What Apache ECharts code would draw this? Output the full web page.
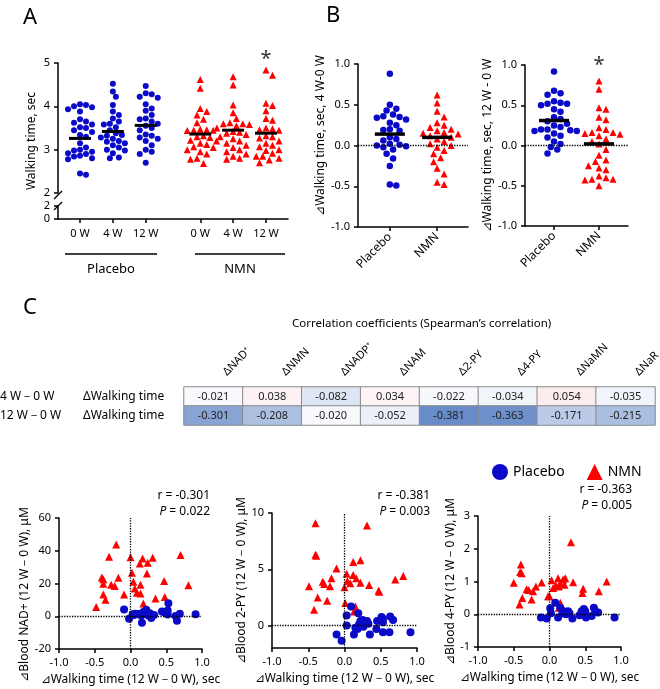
<!DOCTYPE html>
<html>
<head>
<meta charset="utf-8">
<script src="https://cdn.jsdelivr.net/npm/echarts@6/dist/echarts.min.js"></script>
<style>
  html, body { margin: 0; padding: 0; background: #fff; }
  #chart { width: 660px; height: 689px; }
</style>
</head>
<body>
<div id="chart"></div>
<script>
// ---- A: walking time at each visit (sec)
const timeLabels = ['0 W', '4 W', '12 W', '0 W', '4 W', '12 W'];
const aPlacebo0 = [4.05, 4.03, 4.0, 3.98, 3.93, 3.88, 3.7, 3.65, 3.62, 3.58, 3.52, 3.5, 3.45, 3.41, 3.34, 3.3, 3.15, 3.05, 3.0, 2.98, 2.95, 2.92, 2.9, 2.86, 2.84, 2.8, 2.78, 2.45, 2.42];
const aPlacebo4 = [4.52, 4.34, 4.22, 4.03, 3.88, 3.8, 3.72, 3.65, 3.6, 3.58, 3.52, 3.45, 3.38, 3.34, 3.32, 3.28, 3.25, 3.2, 3.18, 3.15, 3.1, 3.05, 3.0, 2.98, 2.92, 2.82, 2.8];
const aPlacebo12 = [4.47, 4.3, 4.28, 4.22, 4.2, 4.05, 3.95, 3.9, 3.8, 3.72, 3.7, 3.65, 3.6, 3.55, 3.5, 3.45, 3.35, 3.32, 3.28, 3.25, 3.2, 3.1, 3.0, 2.95, 2.9, 2.7];
const aNmn0 = [4.62, 4.42, 3.95, 3.88, 3.8, 3.7, 3.62, 3.47, 3.46, 3.45, 3.45, 3.44, 3.32, 3.3, 3.28, 3.22, 3.2, 3.15, 3.12, 3.07, 3.05, 3.0, 2.95, 2.9, 2.8, 2.78, 2.68];
const aNmn4 = [4.68, 4.49, 4.03, 3.85, 3.72, 3.62, 3.6, 3.6, 3.58, 3.55, 3.5, 3.42, 3.4, 3.38, 3.35, 3.3, 3.25, 3.2, 3.15, 3.1, 3.05, 3.0, 2.95, 2.9, 2.85, 2.8, 2.78];
const aNmn12 = [4.84, 4.72, 4.07, 4.02, 3.9, 3.72, 3.68, 3.5, 3.48, 3.46, 3.45, 3.32, 3.3, 3.27, 3.2, 3.15, 3.1, 3.07, 3.0, 2.98, 2.92, 2.85, 2.85, 2.8, 2.76, 2.7];
const aMeans = [3.26, 3.42, 3.56, 3.36, 3.45, 3.38];

// ---- B: change in walking time (sec)
const groupLabels = ['Placebo', 'NMN'];
const bPlacebo4 = [0.88, 0.5, 0.45, 0.43, 0.38, 0.36, 0.35, 0.34, 0.32, 0.28, 0.25, 0.2, 0.19, 0.18, 0.1, 0.08, 0.06, 0.02, 0.01, 0.0, -0.01, -0.02, -0.05, -0.1, -0.16, -0.25, -0.48, -0.49];
const bNmn4 = [0.62, 0.52, 0.42, 0.35, 0.28, 0.25, 0.22, 0.2, 0.18, 0.16, 0.15, 0.14, 0.12, 0.1, 0.08, 0.05, 0.02, 0.0, -0.02, -0.06, -0.1, -0.15, -0.2, -0.28, -0.35, -0.45, -0.48];
const bPlacebo12 = [0.92, 0.68, 0.65, 0.63, 0.55, 0.53, 0.52, 0.52, 0.5, 0.45, 0.42, 0.35, 0.33, 0.3, 0.27, 0.25, 0.23, 0.2, 0.2, 0.19, 0.18, 0.18, 0.15, 0.12, 0.1, 0.05, 0.02, -0.02, -0.05, -0.1];
const bNmn12 = [0.8, 0.7, 0.47, 0.45, 0.35, 0.32, 0.22, 0.2, 0.16, 0.16, 0.15, 0.14, 0.12, 0.08, 0.05, 0.02, -0.05, -0.12, -0.18, -0.2, -0.25, -0.28, -0.3, -0.38, -0.4, -0.42, -0.42, -0.43, -0.5];
const bMeans4 = [0.14, 0.1];
const bMeans12 = [0.31, 0.02];

// ---- C: Spearman correlation table
const metabolites = ['ΔNAD⁺', 'ΔNMN', 'ΔNADP⁺', 'ΔNAM', 'Δ2-PY', 'Δ4-PY', 'ΔNaMN', 'ΔNaR'];
const rowPeriods = ['4 W－0 W', '12 W－0 W'];
const rowMeasure = ['ΔWalking time', 'ΔWalking time'];
const corr4w = [-0.021, 0.038, -0.082, 0.034, -0.022, -0.034, 0.054, -0.035];
const corr12w = [-0.301, -0.208, -0.020, -0.052, -0.381, -0.363, -0.171, -0.215];

// ---- C: scatter, [Δwalking time, Δblood level]
const nadPlacebo = [[-0.09, 4.1], [-0.02, -1.6], [0.03, 1.2], [0.07, 1.5], [0.11, 1.3], [0.16, -4.0], [0.2, 1.8], [0.22, 4.0], [0.23, 2.5], [0.25, 0.5], [0.29, -1], [0.33, 0.8], [0.44, 2.9], [0.47, 2.5], [0.52, 3.5], [0.53, 8], [0.52, 1], [0.63, 0.2], [0.65, -2.7], [0.69, 1.6], [0.91, 1.2], [0.18, 2.6], [0.27, 1.8], [0.15, 0.5], [0.05, 0.8]];
const nadNmn = [[-0.2, 43.8], [-0.3, 36.3], [-0.4, 23.7], [-0.38, 22.6], [-0.38, 19.9], [-0.27, 19.3], [-0.22, 18.5], [-0.17, 23.5], [-0.38, 13.3], [-0.35, 10.1], [-0.48, 5.6], [-0.09, 13.3], [0.0, 36], [0.02, 26.5], [0.04, 21], [0.06, 17], [0.09, 14.3], [0.14, 13.9], [0.14, 19.3], [0.13, 32.2], [0.17, 35.3], [0.24, 32.6], [0.23, 26.1], [0.18, 7.8], [0.31, 35.7], [0.35, 10.9], [0.47, 21.5], [0.48, 11.8], [0.7, 37.4], [0.81, 19]];
const py2Placebo = [[0.09, 1.7], [0.03, 0.9], [0.19, 1.1], [-0.11, -0.79], [-0.04, -1.35], [0.03, 0.0], [0.13, -0.8], [0.18, -0.3], [0.22, 0.4], [0.25, 0.5], [0.27, 0.3], [0.29, 0.2], [0.31, 0.4], [0.33, 0.15], [0.2, 0.1], [0.15, -0.2], [0.26, -0.1], [0.35, -0.8], [0.45, 0.4], [0.44, -0.3], [0.51, 0.75], [0.53, 0.6], [0.53, 0.3], [0.53, -0.6], [0.63, 0.8], [0.67, 0.5], [0.62, -0.6], [0.91, -0.6]];
const py2Nmn = [[-0.4, 9.1], [0.31, 8.9], [-0.4, 6.3], [-0.39, 6.2], [-0.11, 5.06], [0.12, 5.65], [0.22, 5.8], [0.03, 4.6], [0.12, 4.5], [0.16, 4.2], [0.22, 3.8], [0.04, 3.95], [0.08, 3.75], [0.0, 3.4], [0.34, 3.6], [0.47, 3.1], [0.48, 3.0], [0.7, 4.1], [0.81, 4.4], [-0.18, 4.2], [-0.3, 3.9], [-0.28, 3.7], [-0.2, 3.5], [-0.49, 3.5], [-0.37, 2.5], [-0.24, 2.2], [-0.42, 1.4], [0.01, 2.0], [0.15, 1.7], [0.13, 1.25]];
const py4Placebo = [[-0.12, -0.1], [-0.04, -0.13], [0.01, 0.18], [0.02, 0.03], [0.08, 0.35], [0.12, -0.1], [0.15, 0.2], [0.18, 0.03], [0.19, 0.1], [0.21, 0.03], [0.26, 0.09], [0.28, 0.03], [0.32, -0.13], [0.42, -0.03], [0.45, 0.09], [0.48, 0.16], [0.5, 0.09], [0.51, -0.1], [0.59, -0.05], [0.62, 0.2], [0.64, 0.09], [0.68, 0.05], [0.91, -0.1], [0.23, 0.0]];
const py4Nmn = [[-0.5, 0.96], [-0.4, 1.52], [-0.41, 1.29], [-0.39, 1.25], [-0.42, 0.3], [-0.38, 0.5], [-0.32, 0.76], [-0.29, 0.74], [-0.25, 0.45], [-0.23, 0.7], [-0.19, 0.85], [-0.11, 0.97], [-0.02, 0.55], [0.0, 0.55], [0.03, 1.04], [0.05, 0.8], [0.09, 0.88], [0.12, 1.1], [0.13, 0.85], [0.15, 0.95], [0.19, 1.06], [0.21, 0.9], [0.22, 1.1], [0.3, 2.2], [0.33, 0.98], [0.46, 0.65], [0.47, 0.78], [0.69, 0.7], [0.8, 1.0], [0.15, 0.35], [0.13, 0.2]];
const scatterStats = [['r = -0.301', '0.022'], ['r = -0.381', '0.003'], ['r = -0.363', '0.005']];
const scatterNames = ['⊿Blood NAD+ (12 W－0 W), μM', '⊿Blood 2-PY (12 W－0 W), μM', '⊿Blood 4-PY (12 W－0 W), μM'];

const BLUE = '#0a0ac8', RED = '#ff0000', FONT = 'Noto Sans';
const chart = echarts.init(document.getElementById('chart'));

const axisBase = {
  axisLine: { onZero: false, lineStyle: { color: '#000', width: 1.5 } },
  axisTick: { length: 4, lineStyle: { color: '#000', width: 1.5 } },
  axisLabel: { color: '#000', fontSize: 11, fontFamily: FONT },
  splitLine: { show: false },
  nameTextStyle: { color: '#000', fontSize: 12, fontFamily: FONT }
};
function ax(extra) {
  const o = {};
  for (const k in axisBase) o[k] = Object.assign({}, axisBase[k]);
  for (const k in extra) {
    const v = extra[k];
    o[k] = (v && typeof v === 'object' && !Array.isArray(v) && o[k]) ? Object.assign(o[k], v) : v;
  }
  return o;
}

// horizontal spread of a dot column (beeswarm), in axis units
function swarm(values, center, pxX, pxY, gap) {
  const placed = [];
  return values.map(v => {
    const py = v * pxY;
    let dx = 0;
    for (let k = 0; k < 60; k++) {
      const off = (k % 2 ? 1 : -1) * Math.ceil(k / 2) * gap * 0.5;
      if (placed.every(p => Math.hypot(p[0] - off, p[1] - py) >= gap)) { dx = off; break; }
    }
    placed.push([dx, py]);
    return [center + dx / pxX, v];
  });
}

const aX = [0.67, 1.67, 2.67, 4.33, 5.33, 6.33];
const bXl = [0.68, 1.69];
const bXr = [0.62, 1.58];
const pick = (arr, pos) => v => arr[pos.reduce((bi, p, i) => Math.abs(p - v) < Math.abs(pos[bi] - v) ? i : bi, 0)];

const grids = [
  { left: 58, top: 63, width: 230, height: 130 },   // A upper
  { left: 58, top: 206, width: 230, height: 13 },   // A lower (broken axis)
  { left: 358, top: 64, width: 110, height: 163 },  // B left
  { left: 525, top: 65, width: 103, height: 161 },  // B right
  { left: 184, top: 387, width: 471, height: 38 },  // table
  { left: 59, top: 518, width: 143, height: 131 },  // NAD+
  { left: 272, top: 513, width: 145, height: 135 }, // 2-PY
  { left: 478, top: 516, width: 143, height: 131 }  // 4-PY
].map(g => Object.assign({ outerBoundsMode: 'none' }, g));

const scatterX = i => ax({
  gridIndex: 5 + i, type: 'value', min: -1, max: 1, interval: 0.5,
  name: '⊿Walking time (12 W－0 W), sec', nameLocation: 'middle', nameGap: 25,
  axisLabel: { formatter: v => v.toFixed(1) }
});

const xAxis = [
  ax({ gridIndex: 0, type: 'value', min: 0, max: 7, show: false }),
  ax({ gridIndex: 1, type: 'value', min: 0, max: 7,
       axisTick: { customValues: aX },
       axisLabel: { customValues: aX, formatter: pick(timeLabels, aX), margin: 9 } }),
  ax({ gridIndex: 2, type: 'value', min: 0, max: 2.35,
       axisTick: { customValues: bXl },
       axisLabel: { customValues: bXl, formatter: pick(groupLabels, bXl), rotate: 45, fontSize: 12 } }),
  ax({ gridIndex: 3, type: 'value', min: 0, max: 2.2,
       axisTick: { customValues: bXr },
       axisLabel: { customValues: bXr, formatter: pick(groupLabels, bXr), rotate: 45, fontSize: 12 } }),
  { gridIndex: 4, type: 'category', position: 'top', data: metabolites,
    axisLine: { show: false }, axisTick: { show: false }, splitLine: { show: false },
    axisLabel: { rotate: -45, margin: 2, padding: [0, 0, 0, 16], fontSize: 11, color: '#000', fontFamily: FONT, interval: 0 } },
  scatterX(0), scatterX(1), scatterX(2)
];

const bYaxis = (gi, name, gap, pad) => ax({
  gridIndex: gi, type: 'value', min: -1, max: 1, interval: 0.5,
  name, nameLocation: 'middle', nameGap: gap,
  nameTextStyle: { padding: pad },
  axisLabel: { formatter: v => v.toFixed(1) }
});
const rowAxis = (labels, margin) => ({
  gridIndex: 4, type: 'category', position: 'left', data: labels, inverse: true,
  axisLine: { show: false }, axisTick: { show: false }, splitLine: { show: false },
  axisLabel: { margin, align: 'left', fontSize: 12, color: '#000', fontFamily: FONT, interval: 0 }
});

const yAxis = [
  ax({ gridIndex: 0, type: 'value', min: 2, max: 5, interval: 1,
       name: 'Walking time, sec', nameLocation: 'middle', nameGap: 20,
       nameTextStyle: { padding: [0, 26, 0, 0] } }),
  ax({ gridIndex: 1, type: 'value', min: 0, max: 2, interval: 2 }),
  bYaxis(2, '⊿Walking time, sec, 4 W-0 W', 28, [0, 0, 0, 20]),
  bYaxis(3, '⊿Walking time, sec, 12 W - 0 W', 30, [0, 0, 0, 0]),
  rowAxis(rowMeasure, 101),
  ax({ gridIndex: 5, type: 'value', min: -20, max: 60, interval: 20,
       name: scatterNames[0], nameLocation: 'middle', nameGap: 27, nameTextStyle: { padding: [0, 22, 0, 0] } }),
  ax({ gridIndex: 6, type: 'value', min: -2, max: 10,
       axisTick: { customValues: [0, 5, 10] }, axisLabel: { customValues: [0, 5, 10] },
       name: scatterNames[1], nameLocation: 'middle', nameGap: 20 }),
  ax({ gridIndex: 7, type: 'value', min: -1, max: 3, interval: 1,
       name: scatterNames[2], nameLocation: 'middle', nameGap: 17 }),
  rowAxis(rowPeriods, 184)
];

const dotted = (data) => ({
  silent: true, symbol: ['none', 'none'], label: { show: false },
  lineStyle: { color: '#000', type: 'dotted', width: 1.3 }, data
});
const dots = (name, xi, data, size, extra) => Object.assign({
  type: 'scatter', name, xAxisIndex: xi, yAxisIndex: xi,
  symbol: name === 'Placebo' ? 'circle' : 'triangle', symbolSize: size,
  itemStyle: { color: name === 'Placebo' ? BLUE : RED, opacity: 1 },
  emphasis: { disabled: true }, data
}, extra || {});
const meanBars = (xi, pos, means, size) => ({
  type: 'scatter', xAxisIndex: xi, yAxisIndex: xi, symbol: 'rect', symbolSize: size, z: 5,
  itemStyle: { color: '#000', opacity: 1 }, emphasis: { disabled: true },
  data: means.map((m, i) => [pos[i], m])
});
const star = (x, y, dy) => ({
  symbol: 'circle', symbolSize: 1, silent: true, itemStyle: { color: 'rgba(0,0,0,0)' },
  label: { show: true, position: 'inside', offset: [0, dy], formatter: '*', fontSize: 20, color: '#333', fontFamily: FONT },
  data: [{ coord: [x, y] }]
});

const aPlaceboPts = [].concat(...[aPlacebo0, aPlacebo4, aPlacebo12].map((c, i) => swarm(c, aX[i], 32.86, 43.33, 6)));
const aNmnPts = [].concat(...[aNmn0, aNmn4, aNmn12].map((c, i) => swarm(c, aX[3 + i], 32.86, 43.33, 6.5)));

const heat = [];
corr4w.forEach((v, i) => heat.push([i, 0, v]));
corr12w.forEach((v, i) => heat.push([i, 1, v]));

const series = [
  dots('Placebo', 0, aPlaceboPts, 6),
  dots('NMN', 0, aNmnPts, 7, { markPoint: star(aX[5], 5, -4) }),
  meanBars(0, aX, aMeans, [22, 3]),
  { type: 'scatter', xAxisIndex: 1, yAxisIndex: 1, data: [] },
  dots('Placebo', 2, swarm(bPlacebo4, bXl[0], 46.8, 81.5, 6.5), 6.5, { markLine: dotted([{ yAxis: 0 }]) }),
  dots('NMN', 2, swarm(bNmn4, bXl[1], 46.8, 81.5, 7), 7),
  meanBars(2, bXl, bMeans4, [30, 3.5]),
  dots('Placebo', 3, swarm(bPlacebo12, bXr[0], 46.8, 80.5, 6.5), 6.5, { markLine: dotted([{ yAxis: 0 }]) }),
  dots('NMN', 3, swarm(bNmn12, bXr[1], 46.8, 80.5, 7), 7, { markPoint: star(bXr[1], 1, 0) }),
  meanBars(3, bXr, bMeans12, [30, 3.5]),
  { type: 'heatmap', xAxisIndex: 4, yAxisIndex: 4, data: heat,
    label: { show: true, fontSize: 11, color: '#222', fontFamily: FONT, formatter: p => p.value[2].toFixed(3) },
    itemStyle: { borderColor: '#8a8a8a', borderWidth: 1 }, emphasis: { disabled: true } }
];
const heatIndex = series.length - 1;
[[nadPlacebo, nadNmn], [py2Placebo, py2Nmn], [py4Placebo, py4Nmn]].forEach((pair, i) => {
  series.push(dots('NMN', 5 + i, pair[1], 8, { markLine: dotted([{ xAxis: 0 }, { yAxis: 0 }]) }));
  series.push(dots('Placebo', 5 + i, pair[0], 8));
});
series.push({ type: 'scatter', xAxisIndex: 4, yAxisIndex: 8, data: [] });

const statRight = [450, 230, 28];
const statTop = [490, 490, 484];
const titles = [
  { text: 'A', left: 18, top: 2 },
  { text: 'B', left: 321, top: 0 },
  { text: 'C', left: 18, top: 292 }
].map(t => Object.assign(t, { textStyle: { fontSize: 22, fontWeight: 'normal', fontFamily: FONT, color: '#000' } }));
titles.push({ text: 'Correlation coefficients (Spearman’s correlation)', left: 287, top: 313,
  textStyle: { fontSize: 11.5, fontWeight: 'normal', fontFamily: FONT, color: '#000' } });
scatterStats.forEach((s, i) => {
  titles.push({ text: s[0], right: statRight[i], top: statTop[i], padding: 0,
    textStyle: { fontSize: 12, fontWeight: 'normal', fontFamily: FONT, color: '#000' } });
  titles.push({ text: '{i|P} = ' + s[1], right: statRight[i], top: statTop[i] + 16, padding: 0,
    textStyle: { fontSize: 12, fontWeight: 'normal', fontFamily: FONT, color: '#000',
      rich: { i: { fontStyle: 'italic', fontSize: 12, fontFamily: FONT, color: '#000' } } } });
});

const line = (x1, y1, x2, y2) => ({ type: 'line', shape: { x1, y1, x2, y2 }, style: { stroke: '#000', lineWidth: 1.3 } });
const txt = (x, y, text) => ({ type: 'text', x, y, style: { text, fill: '#000', font: '13px "' + FONT + '"', align: 'center', verticalAlign: 'middle' } });

chart.setOption({
  animation: false,
  textStyle: { fontFamily: FONT },
  title: titles,
  legend: { data: ['Placebo', 'NMN'], left: 487, top: 459, itemWidth: 16, itemHeight: 16, itemGap: 22,
    selectedMode: false, textStyle: { fontSize: 14, color: '#000', fontFamily: FONT } },
  grid: grids,
  xAxis,
  yAxis,
  visualMap: { show: false, seriesIndex: heatIndex, dimension: 2, min: -0.4, max: 0.4,
    inRange: { color: ['#5f86c6', '#ffffff', '#e07a84'] } },
  graphic: [
    line(65, 254, 157, 254), line(195, 254, 285, 254),
    txt(111, 269, 'Placebo'), txt(240, 269, 'NMN'),
    line(54, 199, 62, 191), line(54, 210, 62, 202)
  ],
  series
});
</script>
</body>
</html>
